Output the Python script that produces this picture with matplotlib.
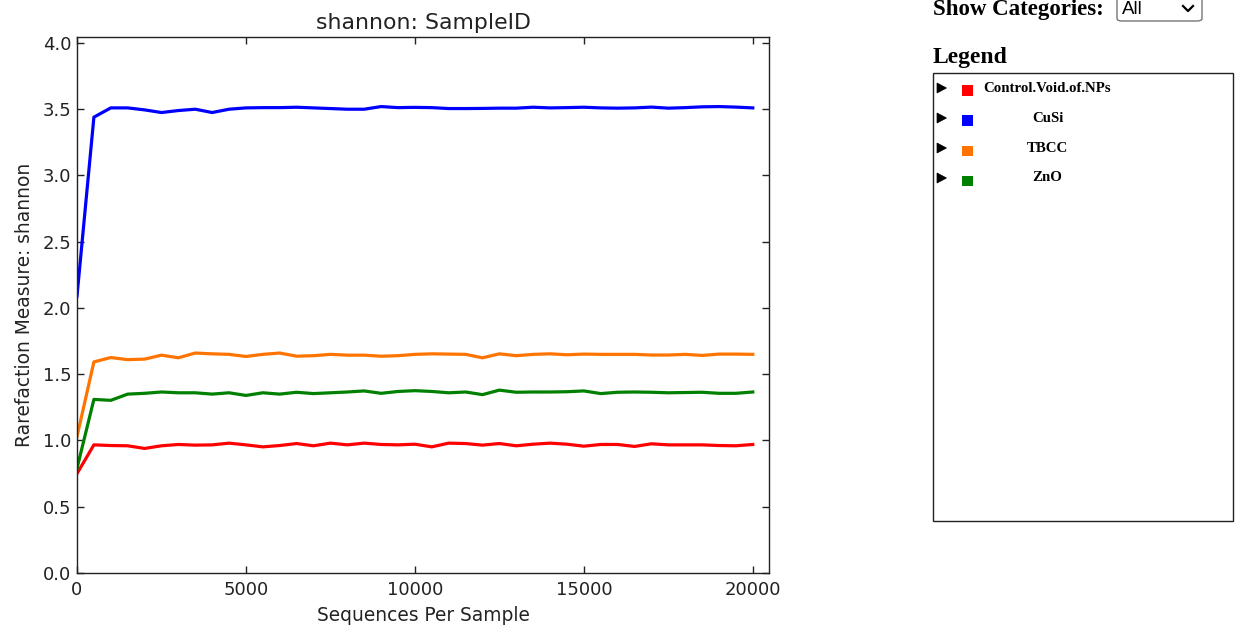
import matplotlib
matplotlib.use("Agg")
import matplotlib.pyplot as plt
from matplotlib.patches import Rectangle, FancyBboxPatch, Polygon
from matplotlib.lines import Line2D

# ---------------- data ----------------
depths = [0, 500, 1000, 1500, 2000, 2500, 3000, 3500, 4000, 4500,
          5000, 5500, 6000, 6500, 7000, 7500, 8000, 8500, 9000, 9500,
          10000, 10500, 11000, 11500, 12000, 12500, 13000, 13500, 14000, 14500,
          15000, 15500, 16000, 16500, 17000, 17500, 18000, 18500, 19000, 19500,
          20000]

control = [0.75, 0.967, 0.962, 0.96, 0.94, 0.96, 0.97, 0.965, 0.967, 0.98,
           0.967, 0.952, 0.962, 0.977, 0.96, 0.98, 0.967, 0.98, 0.97, 0.967,
           0.972, 0.952, 0.98, 0.977, 0.965, 0.977, 0.96, 0.972, 0.98, 0.972,
           0.957, 0.97, 0.97, 0.955, 0.975, 0.967, 0.967, 0.967, 0.962, 0.96,
           0.97]

cusi = [2.09, 3.44, 3.51, 3.51, 3.495, 3.475, 3.49, 3.50, 3.475, 3.50,
        3.51, 3.512, 3.512, 3.515, 3.51, 3.505, 3.50, 3.50, 3.52, 3.512,
        3.514, 3.512, 3.505, 3.505, 3.506, 3.508, 3.508, 3.515, 3.51, 3.512,
        3.515, 3.51, 3.508, 3.51, 3.516, 3.508, 3.512, 3.518, 3.52, 3.516,
        3.51]

tbcc = [1.03, 1.593, 1.626, 1.61, 1.614, 1.644, 1.624, 1.66, 1.654, 1.65,
        1.634, 1.65, 1.66, 1.636, 1.64, 1.65, 1.644, 1.644, 1.636, 1.64,
        1.65, 1.654, 1.652, 1.65, 1.624, 1.654, 1.64, 1.65, 1.654, 1.647,
        1.652, 1.65, 1.65, 1.65, 1.645, 1.645, 1.65, 1.642, 1.652, 1.652,
        1.65]

zno = [0.79, 1.31, 1.303, 1.35, 1.356, 1.366, 1.36, 1.36, 1.35, 1.36,
       1.34, 1.36, 1.35, 1.364, 1.354, 1.36, 1.366, 1.374, 1.356, 1.37,
       1.376, 1.37, 1.36, 1.366, 1.346, 1.38, 1.364, 1.366, 1.366, 1.368,
       1.374, 1.354, 1.364, 1.366, 1.364, 1.36, 1.362, 1.364, 1.356, 1.356,
       1.366]

categories = ["Control.Void.of.NPs", "CuSi", "TBCC", "ZnO"]
series = [control, cusi, tbcc, zno]
colors = ["#ff0000", "#0000ff", "#ff7400", "#008000"]

x_ticks = [0, 5000, 10000, 15000, 20000]
y_ticks = [0.0, 0.5, 1.0, 1.5, 2.0, 2.5, 3.0, 3.5, 4.0]

title = "shannon: SampleID"
xlabel = "Sequences Per Sample"
ylabel = "Rarefaction Measure: shannon"

# ---------------- figure ----------------
W, H = 1238, 632
fig = plt.figure(figsize=(W / 100, H / 100), dpi=100)
fig.patch.set_facecolor("white")


def fx(px):
    return px / W


def fy(py):
    return 1 - py / H


ax = fig.add_axes([fx(77), fy(573), fx(769) - fx(77), fy(37) - fy(573)])

for vals, c in zip(series, colors):
    ax.plot(depths, vals, color=c, lw=2.3, solid_joinstyle="round")

ax.set_xlim(0, 20480)
ax.set_ylim(0, 4.045)
ax.set_xticks(x_ticks)
ax.set_xticklabels([str(t) for t in x_ticks])
ax.set_yticks(y_ticks)
ax.set_yticklabels([f"{t:.1f}" for t in y_ticks])
ax.tick_params(direction="in", top=True, right=True, length=5, width=1,
               labelsize=13, colors="#222222", pad=4)
ax.tick_params(axis="x", pad=5.5)
for s in ax.spines.values():
    s.set_linewidth(1.0)
    s.set_color("#222222")

ax.set_title(title, fontsize=15.8, color="#222222", pad=6)
ax.set_xlabel(xlabel, fontsize=13.4, color="#222222", labelpad=5)
ax.set_ylabel(ylabel, fontsize=13.4, color="#222222", labelpad=6)

# ---------------- side panel (legend) ----------------
serif = ["Liberation Serif", "DejaVu Serif"]

fig.text(fx(933), fy(9), "Show Categories:", fontsize=16.5, fontweight="bold",
         family=serif, ha="left", va="center", color="black")

# dropdown
dd = FancyBboxPatch((fx(1117), fy(21)), fx(1202) - fx(1117), fy(-2) - fy(21),
                    boxstyle="round,pad=0,rounding_size=0.004",
                    transform=fig.transFigure, facecolor="white",
                    edgecolor="#767676", lw=1.0)
fig.patches.append(dd)
fig.text(fx(1122), fy(9), "All", fontsize=13.5, family=["Liberation Sans"],
         ha="left", va="center", color="black")
fig.lines.append(Line2D([fx(1183), fx(1188), fx(1193)], [fy(6), fy(11), fy(6)],
                        transform=fig.transFigure, color="black", lw=1.6))

fig.text(fx(933), fy(58), "Legend", fontsize=17, fontweight="bold",
         family=serif, ha="left", va="center", color="black")

box = Rectangle((fx(933), fy(521)), fx(1233) - fx(933), fy(72.5) - fy(521),
                transform=fig.transFigure, facecolor="white",
                edgecolor="#222222", lw=1.0)
fig.patches.append(box)

for i, (name, c) in enumerate(zip(categories, colors)):
    yc = 88 + 30 * i
    tri = Polygon([[fx(937), fy(yc - 5)], [fx(937), fy(yc + 5)], [fx(946.5), fy(yc)]],
                  closed=True, transform=fig.transFigure, facecolor="black",
                  edgecolor="black", lw=0.5)
    fig.patches.append(tri)
    sq = Rectangle((fx(962), fy(yc + 8)), fx(972.5) - fx(962), fy(yc - 2.5) - fy(yc + 8),
                   transform=fig.transFigure, facecolor=c, edgecolor="none")
    fig.patches.append(sq)
    fig.text(fx(1047.5), fy(yc), name, fontsize=10.7, fontweight="bold",
             family=serif, ha="center", va="center", color="black")

fig.savefig("out.png", dpi=100, facecolor="white")
